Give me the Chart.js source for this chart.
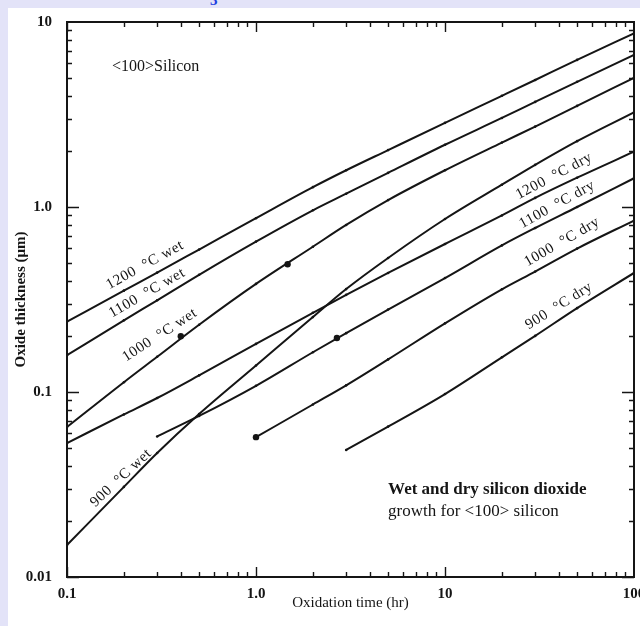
<!DOCTYPE html>
<html>
<head>
<meta charset="utf-8">
<script src="https://cdn.jsdelivr.net/npm/chart.js@4.4.1/dist/chart.umd.min.js"></script>
<style>
  html, body { margin: 0; padding: 0; }
  body { width: 640px; height: 626px; background: #e3e3f8; position: relative; overflow: hidden; }
  #panel { position: absolute; left: 8px; top: 8px; right: 0; bottom: 0; background: #fff; }
  #mark { position: absolute; left: 210px; top: -8px; color: #1a3ee0; font: bold 15px "Liberation Serif", serif; }
  #wrap { position: absolute; left: 0; top: 0; width: 640px; height: 626px; }
</style>
</head>
<body>
<div id="panel"></div>
<div id="mark">3</div>
<div id="wrap"><canvas id="chart"></canvas></div>
<script>
// oxidation time (hr)
const wetTimes = [0.1, 0.2, 0.3, 0.5, 1, 2, 3, 5, 10, 20, 30, 50, 100];
const wet1200 = [0.24, 0.353, 0.442, 0.589, 0.87, 1.28, 1.58, 2.03, 2.85, 3.99, 4.86, 6.24, 8.69];
const wet1100 = [0.158, 0.244, 0.313, 0.43, 0.65, 0.96, 1.18, 1.53, 2.17, 3.03, 3.7, 4.75, 6.63];
const wet1000 = [0.0647, 0.113, 0.155, 0.231, 0.384, 0.61, 0.8, 1.09, 1.58, 2.23, 2.72, 3.52, 4.99];
const wet900 = [0.0149, 0.0307, 0.0468, 0.076, 0.139, 0.254, 0.36, 0.53, 0.861, 1.32, 1.69, 2.27, 3.25];

const dry1200Times = [0.1, 0.2, 0.3, 0.5, 1, 2, 3, 5, 10, 20, 30, 50, 100];
const dry1200 = [0.053, 0.0756, 0.0928, 0.123, 0.182, 0.268, 0.335, 0.44, 0.631, 0.9, 1.12, 1.44, 1.99];
const dry1100Times = [0.3, 0.5, 1, 2, 3, 5, 10, 20, 30, 50, 100];
const dry1100 = [0.0575, 0.0742, 0.108, 0.164, 0.208, 0.279, 0.413, 0.62, 0.77, 1.0, 1.43];
const dry1000Times = [1, 2, 3, 5, 10, 20, 30, 50, 100];
const dry1000 = [0.057, 0.0856, 0.1086, 0.15, 0.235, 0.359, 0.448, 0.596, 0.845];
const dry900Times = [3, 5, 10, 20, 30, 50, 100];
const dry900 = [0.0486, 0.065, 0.0975, 0.154, 0.201, 0.284, 0.44];

// the few heavier dots printed on the curves
const dotTimes = [0.4, 1.47, 1.0, 2.68];
const dotValues = [0.2, 0.49, 0.057, 0.196];

const xTicks = [0.1, 1, 10, 100];
const xTickLabels = ['0.1', '1.0', '10', '100'];
const yTicks = [0.01, 0.1, 1, 10];
const yTickLabels = ['0.01', '0.1', '1.0', '10'];

const curveLabels = [
  { text: '1200  °C wet', x: 0.259, y: 0.485, angle: -29 },
  { text: '1100  °C wet', x: 0.265, y: 0.343, angle: -30 },
  { text: '1000  °C wet', x: 0.31, y: 0.203, angle: -33 },
  { text: '900  °C wet', x: 0.193, y: 0.0343, angle: -43 },
  { text: '1200  °C dry', x: 37.8, y: 1.47, angle: -28 },
  { text: '1100  °C dry', x: 39.2, y: 1.03, angle: -29 },
  { text: '1000  °C dry', x: 41.6, y: 0.647, angle: -30 },
  { text: '900  °C dry', x: 40.1, y: 0.292, angle: -32 }
];

const serif = '"Liberation Serif", "DejaVu Serif", serif';
const ink = '#151515';

function pairs(xs, ys) {
  return xs.map((x, i) => ({ x: x, y: ys[i] }));
}

function curve(xs, ys) {
  return {
    data: pairs(xs, ys),
    borderColor: ink,
    borderWidth: 2,
    pointRadius: 1.3,
    pointBackgroundColor: ink,
    pointBorderWidth: 0,
    cubicInterpolationMode: 'monotone',
    fill: false
  };
}

// frame box and inward log ticks on all four sides
const frameTicks = {
  id: 'frameTicks',
  afterDraw(chart) {
    const { ctx, chartArea: a, scales } = chart;
    const xs = scales.x, ys = scales.y;
    ctx.save();
    ctx.strokeStyle = ink;
    ctx.lineWidth = 1.4;
    for (let d = 0.1; d < 100; d *= 10) {
      for (let m = 1; m < 10; m++) {
        const v = d * m;
        const p = Math.round(xs.getPixelForValue(v)) + 0.5;
        const len = m === 1 ? 10 : 5;
        ctx.beginPath();
        ctx.moveTo(p, a.bottom); ctx.lineTo(p, a.bottom - len);
        ctx.moveTo(p, a.top); ctx.lineTo(p, a.top + len);
        ctx.stroke();
      }
    }
    for (let d = 0.01; d < 10; d *= 10) {
      for (let m = 1; m < 10; m++) {
        const v = d * m;
        const p = Math.round(ys.getPixelForValue(v)) + 0.5;
        const len = m === 1 ? 12 : 5;
        ctx.beginPath();
        ctx.moveTo(a.left, p); ctx.lineTo(a.left + len, p);
        ctx.moveTo(a.right, p); ctx.lineTo(a.right - len, p);
        ctx.stroke();
      }
    }
    ctx.lineWidth = 2;
    ctx.strokeRect(a.left, a.top, a.right - a.left, a.bottom - a.top);
    ctx.restore();
  }
};

// rotated curve names and the two notes
const textLayer = {
  id: 'textLayer',
  afterDatasetsDraw(chart) {
    const { ctx, scales } = chart;
    const xs = scales.x, ys = scales.y;
    ctx.save();
    ctx.fillStyle = ink;
    ctx.textBaseline = 'middle';
    ctx.textAlign = 'center';
    ctx.font = '15px ' + serif;
    ctx.letterSpacing = '0.6px';
    curveLabels.forEach(l => {
      ctx.save();
      ctx.translate(xs.getPixelForValue(l.x), ys.getPixelForValue(l.y));
      ctx.rotate(l.angle * Math.PI / 180);
      ctx.fillText(l.text, 0, 0);
      ctx.restore();
    });
    ctx.letterSpacing = '0px';
    ctx.textAlign = 'left';
    ctx.font = '16px ' + serif;
    ctx.fillText('<100>Silicon', xs.getPixelForValue(0.173), ys.getPixelForValue(5.7));
    ctx.font = 'bold 17px ' + serif;
    ctx.fillText('Wet and dry silicon dioxide', xs.getPixelForValue(5), ys.getPixelForValue(0.0295));
    ctx.font = '17px ' + serif;
    ctx.fillText('growth for <100> silicon', xs.getPixelForValue(5), ys.getPixelForValue(0.0225));
    ctx.restore();
  }
};

new Chart(document.getElementById('chart'), {
  type: 'line',
  data: {
    datasets: [
      curve(wetTimes, wet1200),
      curve(wetTimes, wet1100),
      curve(wetTimes, wet1000),
      curve(wetTimes, wet900),
      curve(dry1200Times, dry1200),
      curve(dry1100Times, dry1100),
      curve(dry1000Times, dry1000),
      curve(dry900Times, dry900),
      {
        data: pairs(dotTimes, dotValues),
        showLine: false,
        pointRadius: 3.2,
        pointBackgroundColor: ink,
        pointBorderWidth: 0
      }
    ]
  },
  options: {
    responsive: true,
    maintainAspectRatio: false,
    animation: false,
    layout: { padding: { left: 8, top: 22, right: 6, bottom: 10 } },
    plugins: { legend: { display: false }, tooltip: { enabled: false } },
    scales: {
      x: {
        type: 'logarithmic',
        min: 0.1,
        max: 100,
        afterBuildTicks: s => { s.ticks = xTicks.map(v => ({ value: v })); },
        afterFit: s => { s.height = 39; s.paddingLeft = 0; s.paddingRight = 0; },
        grid: { display: false },
        border: { display: false },
        ticks: {
          autoSkip: false,
          maxRotation: 0,
          padding: 0,
          color: ink,
          font: { family: serif, size: 15, weight: 'bold' },
          callback: (v, i) => xTickLabels[i]
        },
        title: {
          display: true,
          text: 'Oxidation time (hr)',
          color: ink,
          font: { family: serif, size: 15 },
          padding: { top: 0, bottom: 4 }
        }
      },
      y: {
        type: 'logarithmic',
        min: 0.01,
        max: 10,
        afterBuildTicks: s => { s.ticks = yTicks.map(v => ({ value: v })); },
        afterFit: s => { s.width = 59; s.paddingTop = 0; s.paddingBottom = 0; },
        grid: { display: false },
        border: { display: false },
        ticks: {
          autoSkip: false,
          padding: 7,
          color: ink,
          font: { family: serif, size: 15, weight: 'bold' },
          callback: (v, i) => yTickLabels[i]
        },
        title: {
          display: true,
          text: 'Oxide thickness (μm)',
          color: ink,
          font: { family: serif, size: 15, weight: 'bold' },
          padding: { top: 4, bottom: 0 }
        }
      }
    }
  },
  plugins: [frameTicks, textLayer]
});
</script>
</body>
</html>
